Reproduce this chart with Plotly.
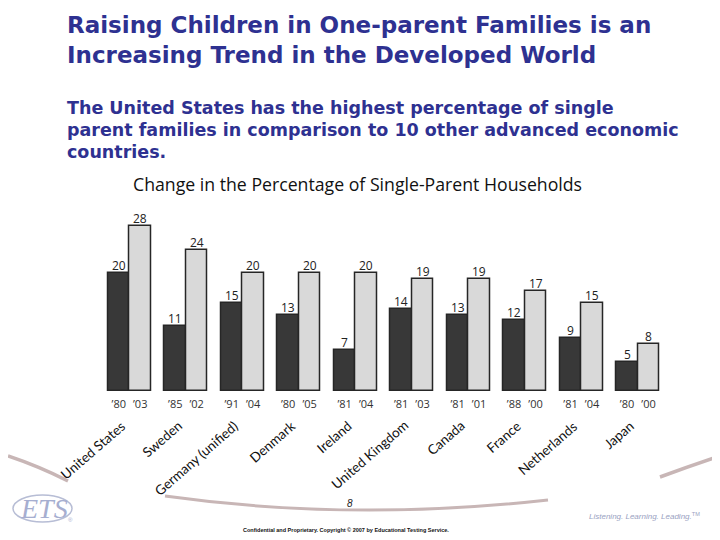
import plotly.graph_objects as go

# The page body adds an 8px margin, so the figure is 712x532 and shifted.
OFF = 8
W, H = 720 - OFF, 540 - OFF

countries = ["United States", "Sweden", "Germany (unified)", "Denmark", "Ireland",
             "United Kingdom", "Canada", "France", "Netherlands", "Japan"]
years_early = ["’80", "’85", "’91", "’80", "’81", "’81", "’81", "’88", "’81", "’80"]
years_late = ["’03", "’02", "’04", "’05", "’04", "’03", "’01", "’00", "’04", "’00"]
pct_early = [20, 11, 15, 13, 7, 14, 13, 12, 9, 5]
pct_late = [28, 24, 20, 20, 20, 19, 19, 17, 15, 8]

title_lines = ["Raising Children in One-parent Families is an",
               "Increasing Trend in the Developed World"]
sub_lines = ["The United States has the highest percentage of single",
             "parent families in comparison to 10 other advanced economic",
             "countries."]
chart_title = "Change in the Percentage of Single-Parent Households"


def px(x):
    return (x - OFF) / W


def py(y):
    return 1 - (y - OFF) / H


BW = 0.38
idx = list(range(len(countries)))
x_early = [i - BW / 2 for i in idx]
x_late = [i + BW / 2 for i in idx]

CHART_FONT = "Open Sans"
LABEL_FONT = "Lato"
TITLE_FONT = "DejaVu Sans"
TITLE_COLOR = "#2e3191"

fig = go.Figure()
fig.add_trace(go.Bar(
    x=x_early, y=pct_early, width=BW,
    marker=dict(color="#383838", line=dict(color="#262626", width=1.5)),
    showlegend=False, hoverinfo="skip"))
fig.add_trace(go.Bar(
    x=x_late, y=pct_late, width=BW,
    marker=dict(color="#d9d9d9", line=dict(color="#262626", width=1.5)),
    showlegend=False, hoverinfo="skip"))

annotations = []
# value labels just above each bar
for xs, vs in ((x_early, pct_early), (x_late, pct_late)):
    for xv, v in zip(xs, vs):
        annotations.append(dict(
            x=xv, y=v, xref="x", yref="y", text=str(v), showarrow=False,
            xanchor="center", yanchor="bottom", yshift=-3,
            font=dict(family=CHART_FONT, size=12, color="#222222")))

for i, name in enumerate(countries):
    annotations.append(dict(
        x=i, xref="x", y=py(415), yref="paper", xshift=2,
        text=name, showarrow=False, textangle=-41,
        xanchor="right", yanchor="top",
        font=dict(family=LABEL_FONT, size=13.5, color="#111111")))

for k, line in enumerate(title_lines):
    annotations.append(dict(
        x=px(65), y=py(25 + 30 * k), xref="paper", yref="paper",
        text="<b>%s</b>" % line, showarrow=False, xanchor="left", yanchor="middle",
        font=dict(family=TITLE_FONT, size=23, color=TITLE_COLOR)))
for k, line in enumerate(sub_lines):
    annotations.append(dict(
        x=px(65), y=py(108 + 22 * k), xref="paper", yref="paper",
        text="<b>%s</b>" % line, showarrow=False, xanchor="left", yanchor="middle",
        font=dict(family=TITLE_FONT, size=17.5, color=TITLE_COLOR)))

annotations.append(dict(
    x=px(131), y=py(184), xref="paper", yref="paper", text=chart_title,
    showarrow=False, xanchor="left", yanchor="middle",
    font=dict(family=CHART_FONT, size=17.7, color="#111111")))

annotations.append(dict(
    x=px(350), y=py(503), xref="paper", yref="paper", text="<i>8</i>",
    xanchor="center", yanchor="middle",
    showarrow=False, font=dict(family="Liberation Sans", size=10, color="#222222")))
annotations.append(dict(
    x=px(346), y=py(530), xref="paper", yref="paper",
    xanchor="center", yanchor="middle",
    text="<b>Confidential and Proprietary. Copyright © 2007 by Educational Testing Service.</b>",
    showarrow=False, font=dict(family="Liberation Sans", size=5.5, color="#111111")))
annotations.append(dict(
    x=px(587), y=py(516), xref="paper", yref="paper", xanchor="left", yanchor="middle",
    text="<i>Listening. Learning. Leading.</i><sup>TM</sup>",
    showarrow=False, font=dict(family="Liberation Sans", size=8, color="#9aa2c2")))
annotations.append(dict(
    x=px(44), y=py(508), xref="paper", yref="paper", xanchor="center", yanchor="middle",
    text="<i>ETS</i>", showarrow=False,
    font=dict(family="Liberation Serif", size=28, color="#a6aed0")))
annotations.append(dict(
    x=px(71), y=py(520), xref="paper", yref="paper", xanchor="center", yanchor="middle",
    text="®", showarrow=False,
    font=dict(family="Liberation Sans", size=6, color="#a6aed0")))


def pt(x, y):
    return "%.5f,%.5f" % (px(x), py(y))


SWOOSH = "#c8b6b6"
shapes = [
    dict(type="path", xref="paper", yref="paper", layer="below",
         path="M %s Q %s %s" % (pt(OFF, 456), pt(38, 466), pt(68, 481)),
         line=dict(color=SWOOSH, width=3.5)),
    dict(type="path", xref="paper", yref="paper", layer="below",
         path="M %s Q %s %s" % (pt(165, 496), pt(350, 522), pt(548, 500)),
         line=dict(color=SWOOSH, width=3)),
    dict(type="path", xref="paper", yref="paper", layer="below",
         path="M %s Q %s %s" % (pt(660, 477), pt(690, 466), pt(720, 456)),
         line=dict(color=SWOOSH, width=3.5)),
    dict(type="circle", xref="paper", yref="paper",
         x0=px(13), x1=px(72), y0=py(522), y1=py(495),
         line=dict(color="#b7bdd5", width=1.5)),
]

fig.update_layout(
    width=W, height=H, margin=dict(l=0, r=0, t=0, b=0),
    paper_bgcolor="white", plot_bgcolor="white",
    barmode="overlay", bargap=0,
    xaxis=dict(domain=[px(101.25), px(666)], range=[-0.5, len(countries) - 0.5],
               tickvals=x_early + x_late, ticktext=years_early + years_late,
               tickfont=dict(family=CHART_FONT, size=11, color="#333333"),
               ticks="outside", ticklen=3, tickcolor="rgba(0,0,0,0)",
               showgrid=False, zeroline=False, showline=False),
    yaxis=dict(domain=[py(391), py(215)], range=[0, 176 / 5.88],
               showticklabels=False, showgrid=False, zeroline=False, showline=False),
    annotations=annotations, shapes=shapes,
)

fig.write_html("out.html")
